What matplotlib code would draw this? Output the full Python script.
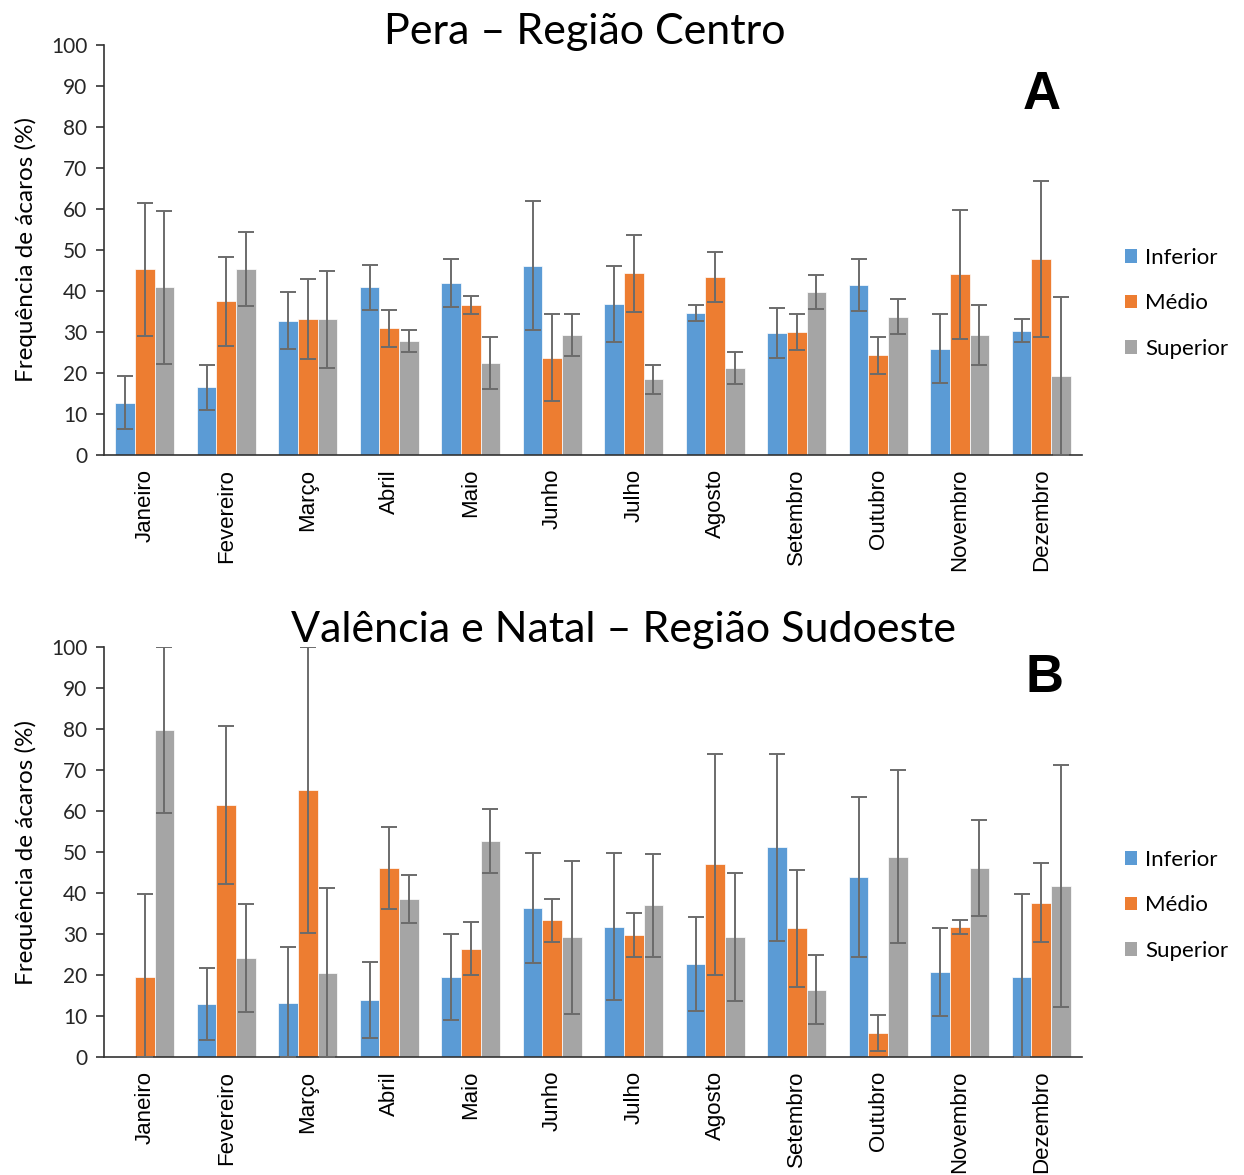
import numpy as np
import matplotlib
matplotlib.use("Agg")
import matplotlib.pyplot as plt
from matplotlib.patches import Patch

months = ["Janeiro", "Fevereiro", "Março", "Abril", "Maio", "Junho", "Julho",
          "Agosto", "Setembro", "Outubro", "Novembro", "Dezembro"]
series = ["Inferior", "Médio", "Superior"]
colors = ["#5B9BD5", "#ED7D31", "#A5A5A5"]

# Panel A - Pera, Região Centro
a_inferior = [12.8, 16.5, 32.8, 40.9, 41.9, 46.2, 36.8, 34.7, 29.7, 41.5, 25.9, 30.3]
a_medio = [45.3, 37.5, 33.1, 30.9, 36.5, 23.7, 44.3, 43.4, 30.0, 24.3, 44.1, 47.8]
a_superior = [40.9, 45.3, 33.1, 27.8, 22.5, 29.3, 18.5, 21.2, 39.7, 33.7, 29.3, 19.3]
a_inferior_err = [6.4, 5.5, 7.0, 5.5, 5.8, 15.8, 9.3, 2.0, 6.1, 6.3, 8.4, 2.8]
a_medio_err = [16.2, 10.8, 9.8, 4.5, 2.2, 10.6, 9.3, 6.0, 4.4, 4.6, 15.7, 19.0]
a_superior_err = [18.7, 9.0, 11.8, 2.6, 6.4, 5.2, 3.5, 4.0, 4.2, 4.3, 7.3, 19.3]

# Panel B - Valência e Natal, Região Sudoeste
b_inferior = [0.0, 13.0, 13.1, 13.9, 19.5, 36.4, 31.8, 22.7, 51.1, 43.9, 20.8, 19.5]
b_medio = [19.5, 61.5, 65.1, 46.1, 26.4, 33.3, 29.8, 47.0, 31.4, 5.8, 31.7, 37.6]
b_superior = [79.7, 24.2, 20.6, 38.6, 52.7, 29.2, 37.0, 29.2, 16.4, 48.9, 46.1, 41.7]
b_inferior_err = [0.0, 8.8, 13.7, 9.2, 10.4, 13.4, 18.0, 11.5, 22.7, 19.6, 10.7, 20.3]
b_medio_err = [20.3, 19.2, 34.8, 10.0, 6.5, 5.3, 5.3, 27.0, 14.3, 4.4, 1.6, 9.6]
b_superior_err = [20.3, 13.2, 20.7, 5.8, 7.8, 18.6, 12.6, 15.6, 8.4, 21.1, 11.7, 29.4]

title_font = ["Lato", "DejaVu Sans"]
arial = ["Liberation Sans", "DejaVu Sans"]

fig = plt.figure(figsize=(12.44, 11.75), dpi=100)
ax_a = fig.add_axes([104/1244, 1 - 455/1175, 978/1244, 410/1175])
ax_b = fig.add_axes([104/1244, 1 - 1057/1175, 978/1244, 410/1175])

panels = [
    (ax_a, "Pera – Região Centro", (585/1244, 1 - 44/1175), "A", (0.959, 0.878),
     [a_inferior, a_medio, a_superior], [a_inferior_err, a_medio_err, a_superior_err]),
    (ax_b, "Valência e Natal – Região Sudoeste", (623/1244, 1 - 642/1175), "B", (0.962, 0.924),
     [b_inferior, b_medio, b_superior], [b_inferior_err, b_medio_err, b_superior_err]),
]

x = np.arange(len(months))
w = 0.24
for ax, title, tpos, letter, lpos, vals, errs in panels:
    for i, (v, e, c, name) in enumerate(zip(vals, errs, colors, series)):
        v = np.array(v)
        e = np.array(e)
        lower = np.minimum(e, v)
        pos = x + (i - 1) * w
        ax.bar(pos, v, width=w, color=c, edgecolor="white", linewidth=0.5,
               label=name, zorder=2)
        mask = e > 0
        ax.errorbar(pos[mask], v[mask], yerr=[lower[mask], e[mask]], fmt="none",
                    ecolor="#6b6b6b", elinewidth=1.4, capsize=5.5, capthick=1.4,
                    zorder=3)
    ax.set_xlim(-0.5, len(months) - 0.5)
    ax.set_ylim(0, 100)
    ax.set_yticks(np.arange(0, 101, 10))
    ax.set_xticks(x)
    ax.set_xticklabels(months, rotation=90, fontsize=16, family=arial)
    ax.tick_params(axis="x", length=0, pad=10)
    ax.tick_params(axis="y", direction="out", length=6, width=1.2, labelsize=15,
                   pad=6, color="#333333")
    for lbl in ax.get_yticklabels():
        lbl.set_family(title_font)
        lbl.set_color("#262626")
    for s in ["top", "right"]:
        ax.spines[s].set_visible(False)
    for s in ["left", "bottom"]:
        ax.spines[s].set_linewidth(1.2)
        ax.spines[s].set_color("#333333")
    ax.set_ylabel("Frequência de ácaros (%)", fontsize=17.5, family=title_font,
                  labelpad=10)
    fig.text(tpos[0], tpos[1], title, fontsize=31, family=title_font,
             ha="center", va="baseline")
    ax.text(lpos[0], lpos[1], letter, transform=ax.transAxes, fontsize=38,
            fontweight="bold", family=arial, ha="center", va="center")
    handles = [Patch(facecolor=c, label=n) for c, n in zip(colors, series)]
    ax.legend(handles=handles, loc="center left", bbox_to_anchor=(1.035, 0.37),
              frameon=False, prop={"family": title_font, "size": 16},
              handlelength=0.55, handleheight=0.55, handletextpad=0.35,
              labelspacing=1.15, borderaxespad=0)

fig.savefig("out.png", dpi=100)
